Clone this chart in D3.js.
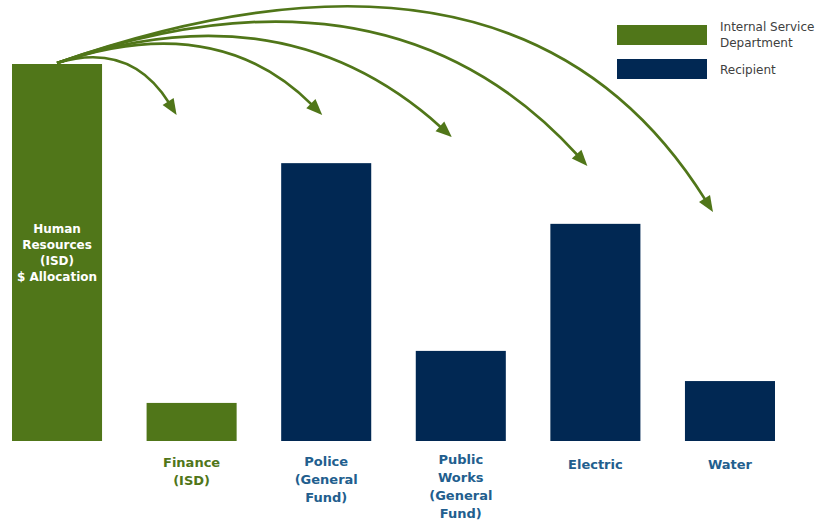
<!DOCTYPE html>
<html>
<head>
<meta charset="utf-8">
<script src="https://cdn.jsdelivr.net/npm/d3@7"></script>
<style>
  html, body { margin: 0; padding: 0; background: #fff; }
  svg { display: block; }
</style>
</head>
<body>
<svg id="chart" width="820" height="523"></svg>
<script>
// ---- data ----
const categories = ["Human Resources", "Finance", "Police", "Public Works", "Electric", "Water"];
const values = [1000, 101, 737, 239, 576, 159];           // $ allocation (relative)
const roles = ["isd", "isd", "recipient", "recipient", "recipient", "recipient"];
const barLabels = [
  ["Human", "Resources", "(ISD)", "$ Allocation"],
  ["Finance", "(ISD)"],
  ["Police", "(General", "Fund)"],
  ["Public", "Works", "(General", "Fund)"],
  ["Electric"],
  ["Water"]
];
const legendLabels = [["Internal Service", "Department"], ["Recipient"]];
const legendRoles = ["isd", "recipient"];

// ---- styles / layout ----
const GREEN = "#507619", NAVY = "#012853", LABEL_BLUE = "#225E8E";
const color = d3.scaleOrdinal().domain(["isd", "recipient"]).range([GREEN, NAVY]);
const FONT = "'DejaVu Sans', sans-serif";

const svg = d3.select("#chart");
const x = d3.scaleBand().domain(categories).range([12, 775]).paddingInner(0.331).paddingOuter(0);
const y = d3.scaleLinear().domain([0, 1000]).range([441, 64]);

// bars
svg.selectAll("rect.bar").data(categories).join("rect")
  .attr("class", "bar")
  .attr("x", d => x(d))
  .attr("y", (d, i) => y(values[i]))
  .attr("width", x.bandwidth())
  .attr("height", (d, i) => y(0) - y(values[i]))
  .attr("fill", (d, i) => color(roles[i]));

// text inside source bar
const src = categories[0];
svg.append("text")
  .attr("x", x(src) + x.bandwidth() / 2)
  .attr("y", 233)
  .attr("text-anchor", "middle")
  .attr("fill", "#fff")
  .attr("font-family", FONT)
  .attr("font-weight", "bold")
  .attr("font-size", 12)
  .selectAll("tspan").data(barLabels[0]).join("tspan")
  .attr("x", x(src) + x.bandwidth() / 2)
  .attr("dy", (d, i) => i === 0 ? 0 : 16)
  .text(d => d);

// category labels below bars
categories.slice(1).forEach((c, k) => {
  const i = k + 1;
  const lines = barLabels[i];
  const baseY = lines.length === 1 ? 469 : lines.length === 4 ? 464 : lines.length === 3 ? 466 : 467;
  const t = svg.append("text")
    .attr("x", x(c) + x.bandwidth() / 2)
    .attr("y", baseY)
    .attr("text-anchor", "middle")
    .attr("fill", roles[i] === "isd" ? GREEN : LABEL_BLUE)
    .attr("font-family", FONT)
    .attr("font-weight", "bold")
    .attr("font-size", 13);
  t.selectAll("tspan").data(lines).join("tspan")
    .attr("x", x(c) + x.bandwidth() / 2)
    .attr("dy", (d, j) => j === 0 ? 0 : 18)
    .text(d => d);
});

// arrows from source bar top to each recipient
const sx = x(src) + x.bandwidth() / 2, sy = y(values[0]) - 1;
// arrow geometry (layout): tip offset from bar centre, tip y, start slope, end slope
const arrowLayout = [
  { dx: -15, ty: 115, s1: -0.30, s2: 1.6 },
  { dx: -4,  ty: 115, s1: -0.34, s2: 1.0 },
  { dx: -9,  ty: 137, s1: -0.34, s2: 0.9 },
  { dx: -8,  ty: 166, s1: -0.35, s2: 1.1 },
  { dx: -17, ty: 212, s1: -0.35, s2: 1.6 }
];
const headLen = 16, headW = 13;
categories.slice(1).forEach((c, k) => {
  const L = arrowLayout[k];
  const ex = x(c) + x.bandwidth() / 2 + L.dx, ey = L.ty;
  // control point: intersection of the two tangent lines
  const cx = (ey - sy + L.s1 * sx - L.s2 * ex) / (L.s1 - L.s2);
  const cy = sy + L.s1 * (cx - sx);
  // unit direction at end
  let ux = ex - cx, uy = ey - cy;
  const len = Math.hypot(ux, uy); ux /= len; uy /= len;
  const bx = ex - ux * headLen, by = ey - uy * headLen;
  const p = d3.path();
  p.moveTo(sx, sy);
  p.quadraticCurveTo(cx, cy, bx + ux * 2, by + uy * 2);
  svg.append("path").attr("d", p.toString())
    .attr("fill", "none").attr("stroke", GREEN).attr("stroke-width", 2.7);
  const nx = -uy, ny = ux;
  svg.append("path")
    .attr("d", `M${ex},${ey}L${bx + nx * headW / 2},${by + ny * headW / 2}L${bx - nx * headW / 2},${by - ny * headW / 2}Z`)
    .attr("fill", GREEN);
});

// legend
const lg = svg.append("g");
legendRoles.forEach((r, i) => {
  const yy = i === 0 ? 25 : 59;
  lg.append("rect").attr("x", 617).attr("y", yy).attr("width", 90).attr("height", 20).attr("fill", color(r));
  const t = lg.append("text").attr("x", 720).attr("y", i === 0 ? 31 : 74)
    .attr("font-family", FONT).attr("font-size", 12).attr("fill", "#404040");
  t.selectAll("tspan").data(legendLabels[i]).join("tspan")
    .attr("x", 720).attr("dy", (d, j) => j === 0 ? 0 : 16).text(d => d);
});
</script>
</body>
</html>
